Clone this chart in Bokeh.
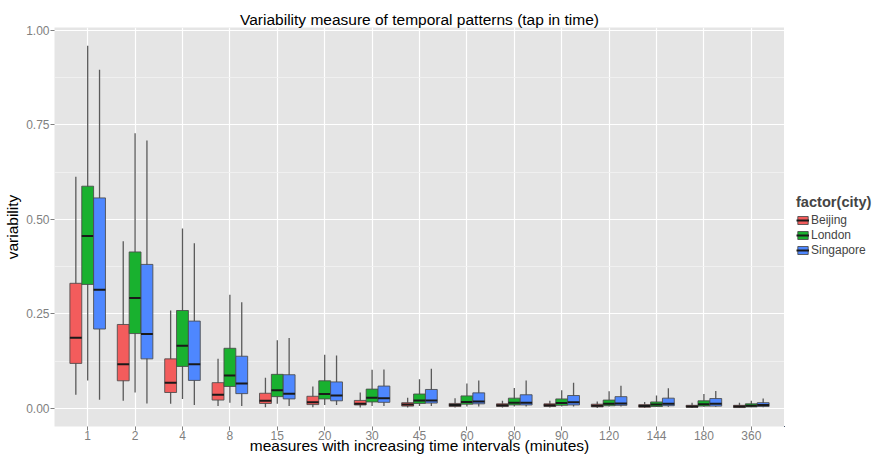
from bokeh.plotting import figure
from bokeh.layouts import row
from bokeh.models import (FactorRange, Range1d, FixedTicker, ColumnDataSource,
                          Legend, LegendItem, NumeralTickFormatter)
from bokeh.transform import dodge
from bokeh.embed import file_html
from bokeh.resources import INLINE

intervals = ["1", "2", "4", "8", "15", "20", "30", "45", "60", "80", "90",
             "120", "144", "180", "360"]
cities = ["Beijing", "London", "Singapore"]
colors = ["#F35C5C", "#19B12F", "#4E87FF"]

beijing_lower = [0.036, 0.020, 0.012, 0.006, 0.003, 0.003, 0.002, 0.002, 0.002, 0.002, 0.002, 0.001, 0.001, 0.001, 0.001]
beijing_q1 = [0.119, 0.073, 0.042, 0.022, 0.013, 0.010, 0.009, 0.006, 0.005, 0.005, 0.005, 0.004, 0.003, 0.003, 0.002]
beijing_median = [0.187, 0.117, 0.068, 0.036, 0.020, 0.016, 0.012, 0.010, 0.009, 0.008, 0.008, 0.007, 0.006, 0.005, 0.005]
beijing_q3 = [0.331, 0.222, 0.131, 0.068, 0.040, 0.032, 0.021, 0.015, 0.013, 0.012, 0.012, 0.011, 0.010, 0.008, 0.008]
beijing_upper = [0.613, 0.442, 0.259, 0.131, 0.081, 0.058, 0.042, 0.028, 0.027, 0.020, 0.020, 0.018, 0.017, 0.015, 0.015]

london_lower = [0.074, 0.042, 0.025, 0.015, 0.012, 0.009, 0.006, 0.006, 0.005, 0.005, 0.005, 0.005, 0.004, 0.004, 0.003]
london_q1 = [0.328, 0.198, 0.111, 0.058, 0.031, 0.025, 0.017, 0.013, 0.011, 0.009, 0.008, 0.007, 0.005, 0.006, 0.004]
london_median = [0.456, 0.292, 0.166, 0.087, 0.048, 0.038, 0.028, 0.021, 0.017, 0.015, 0.014, 0.012, 0.010, 0.011, 0.007]
london_q3 = [0.588, 0.414, 0.259, 0.159, 0.090, 0.073, 0.051, 0.038, 0.033, 0.027, 0.025, 0.022, 0.017, 0.020, 0.012]
london_upper = [0.960, 0.728, 0.476, 0.301, 0.180, 0.142, 0.102, 0.077, 0.066, 0.054, 0.048, 0.045, 0.034, 0.038, 0.020]

singapore_lower = [0.023, 0.013, 0.009, 0.006, 0.006, 0.009, 0.006, 0.006, 0.005, 0.005, 0.005, 0.005, 0.004, 0.004, 0.003]
singapore_q1 = [0.210, 0.131, 0.074, 0.039, 0.025, 0.020, 0.016, 0.014, 0.012, 0.009, 0.009, 0.008, 0.007, 0.006, 0.005]
singapore_median = [0.314, 0.197, 0.117, 0.066, 0.039, 0.034, 0.027, 0.021, 0.018, 0.015, 0.016, 0.013, 0.012, 0.012, 0.009]
singapore_q3 = [0.557, 0.381, 0.231, 0.138, 0.089, 0.070, 0.059, 0.050, 0.041, 0.036, 0.034, 0.031, 0.027, 0.026, 0.015]
singapore_upper = [0.896, 0.709, 0.437, 0.281, 0.186, 0.140, 0.103, 0.105, 0.074, 0.074, 0.068, 0.060, 0.053, 0.046, 0.026]

y_ticks = [0.0, 0.25, 0.5, 0.75, 1.0]
y_minor = [0.125, 0.375, 0.625, 0.875]

series = [
    (beijing_lower, beijing_q1, beijing_median, beijing_q3, beijing_upper),
    (london_lower, london_q1, london_median, london_q3, london_upper),
    (singapore_lower, singapore_q1, singapore_median, singapore_q3, singapore_upper),
]

FONT = "Liberation Sans"
H = 456

p = figure(
    x_range=FactorRange(factors=intervals, range_padding=0.2, range_padding_units="absolute"),
    y_range=Range1d(-0.048, 1.008),
    width=784, height=H,
    output_backend="svg", toolbar_location=None,
    title="Variability measure of temporal patterns (tap in time)",
    x_axis_label="measures with increasing time intervals (minutes)",
    y_axis_label="variability",
    min_border_left=54, min_border_right=0, min_border_top=27, min_border_bottom=0,
)
p.background_fill_color = "#E5E5E5"
p.border_fill_color = "white"
p.outline_line_color = None

p.title.text_font = FONT
p.title.text_font_size = "15.5px"
p.title.text_font_style = "normal"
p.title.text_color = "black"
p.title.align = "center"
p.title.standoff = 0

p.yaxis.ticker = FixedTicker(ticks=y_ticks, minor_ticks=y_minor)
p.yaxis.formatter = NumeralTickFormatter(format="0.00")

for ax in (p.xaxis, p.yaxis):
    ax.axis_line_color = None
    ax.major_tick_line_color = "#7F7F7F"
    ax.major_tick_in = 0
    ax.major_tick_out = 4
    ax.minor_tick_line_color = None
    ax.major_label_text_font = FONT
    ax.major_label_text_font_size = "12px"
    ax.major_label_text_color = "#7F7F7F"
    ax.major_label_standoff = 1
    ax.axis_label_text_font = FONT
    ax.axis_label_text_font_size = "15.5px"
    ax.axis_label_text_font_style = "normal"
    ax.axis_label_text_color = "black"
    ax.axis_label_standoff = 2
p.xaxis.major_label_standoff = 0
try:
    p.xaxis.axis_label_standoff = -6
except Exception:
    p.xaxis.axis_label_standoff = 0

p.xgrid.grid_line_color = "white"
p.xgrid.grid_line_width = 1.2
p.ygrid.grid_line_color = "white"
p.ygrid.grid_line_width = 1.2
p.ygrid.minor_grid_line_color = "#F2F2F2"
p.ygrid.minor_grid_line_width = 0.8

# legend panel (its key glyphs share the data but lie outside its visible ranges)
lg = figure(width=881 - 784, height=H, output_backend="svg", toolbar_location=None,
            x_axis_type=None, y_axis_type=None, x_range=Range1d(2, 3), y_range=Range1d(2, 3),
            min_border_left=0, min_border_right=0, min_border_top=0, min_border_bottom=0)
lg.outline_line_color = None
lg.background_fill_color = "white"
lg.border_fill_color = "white"
lg.grid.visible = False

offsets = [-0.25, 0.0, 0.25]
items = []
for city, color, off, (lo, q1, med, q3, up) in zip(cities, colors, offsets, series):
    src = ColumnDataSource(dict(cat=intervals, lower=lo, q1=q1, median=med, q3=q3, upper=up))
    p.segment(x0=dodge("cat", off, range=p.x_range), y0="lower",
              x1=dodge("cat", off, range=p.x_range), y1="upper",
              source=src, line_color="#5A5A5A", line_width=1.3)
    p.vbar(x=dodge("cat", off, range=p.x_range), width=0.25, bottom="q1", top="q3",
           source=src, fill_color=color, line_color="#4A4A4A", line_alpha=0.85,
           line_width=1)
    p.segment(x0=dodge("cat", off - 0.125, range=p.x_range), y0="median",
              x1=dodge("cat", off + 0.125, range=p.x_range), y1="median",
              source=src, line_color="#1A1A1A", line_width=2)
    kb = lg.vbar(x="median", bottom="q1", top="q3", width=0.01, source=src,
                 fill_color=color, line_color="#4A4A4A", line_alpha=0.85, line_width=1)
    km = lg.segment(x0="median", y0="median", x1="median", y1="median", source=src,
                    line_color="#1A1A1A", line_width=2)
    items.append(LegendItem(label=city, renderers=[kb, km]))

legend = Legend(items=items, location=(12, 169), title="factor(city)",
                title_text_font=FONT, title_text_font_size="14.6px",
                title_text_font_style="bold", title_standoff=3,
                label_text_font=FONT, label_text_font_size="12px",
                label_height=13, glyph_height=10, glyph_width=13, spacing=1,
                label_standoff=2, padding=0, margin=0,
                border_line_color=None, background_fill_alpha=0)
lg.add_layout(legend, "center")

layout = row(p, lg, spacing=0)
open("out.html", "w").write(file_html(layout, INLINE))
